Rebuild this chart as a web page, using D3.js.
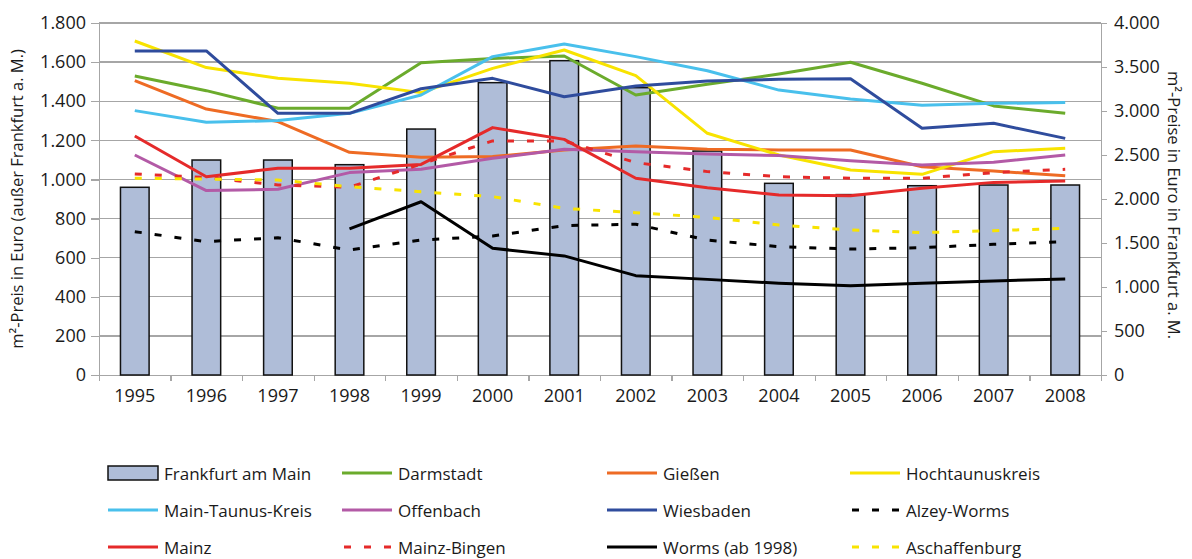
<!DOCTYPE html>
<html lang="de">
<head>
<meta charset="utf-8">
<title>m²-Preise Rhein-Main 1995-2008</title>
<script src="https://d3js.org/d3.v7.min.js"></script>
<style>
  body { margin: 0; background: #fff; }
  svg text { font-family: "Open Sans", sans-serif; fill: #1a1a1a; }
  .axis path, .axis line { stroke: #a6a6a6; stroke-width: 1.3; shape-rendering: crispEdges; }
  .grid line { stroke: #a6a6a6; stroke-width: 1.3; shape-rendering: crispEdges; }
</style>
</head>
<body>
<svg id="chart" width="1192" height="559"></svg>
<script>
// Jahre (Kategorien)
const years = [1995, 1996, 1997, 1998, 1999, 2000, 2001, 2002, 2003, 2004, 2005, 2006, 2007, 2008];

// Frankfurt am Main (rechte Achse)
const frankfurt = [2133, 2443, 2443, 2390, 2795, 3322, 3572, 3265, 2545, 2178, 2050, 2151, 2159, 2159];

// übrige Städte / Kreise (linke Achse)
const darmstadt     = [1529, 1454, 1364, 1364, 1597, 1619, 1631, 1432, 1487, 1539, 1599, 1492, 1376, 1338];
const giessen       = [1505, 1360, 1296, 1139, 1113, 1117, 1151, 1171, 1154, 1151, 1151, 1065, 1043, 1019];
const hochtaunus    = [1708, 1572, 1517, 1492, 1444, 1568, 1662, 1531, 1236, 1125, 1048, 1026, 1142, 1159];
const mainTaunus    = [1352, 1292, 1301, 1338, 1432, 1628, 1693, 1628, 1556, 1457, 1411, 1379, 1389, 1393];
const offenbach     = [1125, 943, 950, 1035, 1052, 1108, 1154, 1142, 1130, 1122, 1096, 1074, 1088, 1125];
const wiesbaden     = [1657, 1657, 1338, 1338, 1464, 1517, 1423, 1478, 1503, 1512, 1515, 1262, 1287, 1210];
const alzeyWorms    = [733, 682, 702, 639, 690, 711, 764, 771, 690, 656, 644, 651, 668, 682];
const mainz         = [1222, 1014, 1057, 1057, 1077, 1265, 1205, 1006, 958, 921, 917, 955, 985, 992];
const mainzBingen   = [1028, 1010, 972, 960, 1079, 1197, 1197, 1086, 1040, 1014, 1006, 1006, 1035, 1052];
const worms         = [null, null, null, 747, 886, 648, 609, 508, 489, 469, 457, 469, 481, 491];
const aschaffenburg = [1006, 1002, 997, 963, 937, 912, 852, 830, 806, 767, 742, 728, 738, 750];

// Achsenwerte
const leftTicks  = [0, 200, 400, 600, 800, 1000, 1200, 1400, 1600, 1800];
const rightTicks = [0, 500, 1000, 1500, 2000, 2500, 3000, 3500, 4000];

// Linien in Legendenreihenfolge
const series = [
  { name: "Darmstadt",          values: darmstadt,     color: "#6bab2c", dash: null },
  { name: "Gießen",             values: giessen,       color: "#ee6b24", dash: null },
  { name: "Hochtaunuskreis",    values: hochtaunus,    color: "#f8e300", dash: null },
  { name: "Main-Taunus-Kreis",  values: mainTaunus,    color: "#49c0ec", dash: null },
  { name: "Offenbach",          values: offenbach,     color: "#b35aa6", dash: null },
  { name: "Wiesbaden",          values: wiesbaden,     color: "#2f4c9d", dash: null },
  { name: "Alzey-Worms",        values: alzeyWorms,    color: "#000000", dash: "7,13" },
  { name: "Mainz",              values: mainz,         color: "#e52a2a", dash: null },
  { name: "Mainz-Bingen",       values: mainzBingen,   color: "#e52a2a", dash: "7,13" },
  { name: "Worms (ab 1998)",    values: worms,         color: "#000000", dash: null },
  { name: "Aschaffenburg",      values: aschaffenburg, color: "#f8e300", dash: "7,13" }
];

const margin = { top: 23, right: 91, bottom: 184, left: 99 },
      width  = 1192 - margin.left - margin.right,
      height = 559 - margin.top - margin.bottom;

const de = d3.formatLocale({ decimal: ",", thousands: ".", grouping: [3], currency: ["", " €"] });
const fmt = de.format(",d");

const svg = d3.select("#chart");
const g = svg.append("g").attr("transform", `translate(${margin.left},${margin.top})`);

// Skalen
const x = d3.scaleBand().domain(years).range([0, width]).paddingInner(0.6).paddingOuter(0.3);
const xEdge = d3.scaleLinear().domain([0, years.length]).range([0, width]);
const yL = d3.scaleLinear().domain([0, 1800]).range([height, 0]);
const yR = d3.scaleLinear().domain([0, 4000]).range([height, 0]);
const cx = yr => x(yr) + x.bandwidth() / 2;

// Gitternetz
g.append("g").attr("class", "grid")
  .selectAll("line").data(leftTicks.slice(1)).join("line")
  .attr("x1", 0).attr("x2", width)
  .attr("y1", d => yL(d)).attr("y2", d => yL(d));

// Achsen
const axL = g.append("g").attr("class", "axis")
  .call(d3.axisLeft(yL).tickValues(leftTicks).tickSize(8).tickSizeOuter(0).tickPadding(5).tickFormat(fmt));
const axR = g.append("g").attr("class", "axis").attr("transform", `translate(${width},0)`)
  .call(d3.axisRight(yR).tickValues(rightTicks).tickSize(6).tickSizeOuter(0).tickPadding(7).tickFormat(fmt));
g.append("g").attr("class", "axis").attr("transform", `translate(0,${height})`)
  .call(d3.axisBottom(xEdge).ticks(years.length).tickSize(6).tickSizeOuter(0).tickFormat(""));
const axBL = g.append("g").attr("class", "axis").attr("transform", `translate(0,${height})`)
  .call(d3.axisBottom(x).tickSize(0).tickPadding(14));
axBL.select(".domain").remove();

[axL, axR, axBL].forEach(a => a.selectAll("text").style("font-size", "18px").attr("fill", "#1a1a1a"));

// Balken Frankfurt
g.append("g").selectAll("rect")
  .data(years.map((yr, i) => ({ yr, v: frankfurt[i] })))
  .join("rect")
  .attr("x", d => x(d.yr))
  .attr("y", d => yR(d.v))
  .attr("width", x.bandwidth())
  .attr("height", d => height - yR(d.v))
  .attr("fill", "#afbdd8")
  .attr("stroke", "#111")
  .attr("stroke-width", 1.5);

// Linien
const line = d3.line()
  .defined(d => d.v !== null)
  .x(d => cx(d.yr))
  .y(d => yL(d.v));

g.append("g").selectAll("path")
  .data(series)
  .join("path")
  .attr("d", s => line(years.map((yr, i) => ({ yr, v: s.values[i] }))))
  .attr("fill", "none")
  .attr("stroke", s => s.color)
  .attr("stroke-width", 3)
  .attr("stroke-dasharray", s => s.dash)
  .attr("stroke-linejoin", "round");

// Achsentitel
svg.append("text")
  .attr("transform", `translate(19,${margin.top + height / 2}) rotate(-90)`)
  .attr("text-anchor", "middle").attr("dominant-baseline", "middle")
  .style("font-size", "16.5px")
  .text("m²-Preis in Euro (außer Frankfurt a. M.)");
svg.append("text")
  .attr("transform", `translate(1172,${margin.top + height / 2 + 6}) rotate(90)`)
  .attr("text-anchor", "middle").attr("dominant-baseline", "middle")
  .style("font-size", "16.5px")
  .text("m²-Preise in Euro in Frankfurt a. M.");

// Legende
const legendItems = [{ name: "Frankfurt am Main", bar: true }].concat(series);
const colX = [108, 342, 607, 850];
const rowY = [473, 510, 547];
const swW = 50;

const leg = svg.append("g").selectAll("g")
  .data(legendItems)
  .join("g")
  .attr("transform", (d, i) => `translate(${colX[i % 4]},${rowY[Math.floor(i / 4)]})`);

leg.filter(d => d.bar).append("rect")
  .attr("x", 0).attr("y", -7).attr("width", swW).attr("height", 14)
  .attr("fill", "#afbdd8").attr("stroke", "#111").attr("stroke-width", 1.5);

leg.filter(d => !d.bar).append("line")
  .attr("x1", d => d.dash ? 2 : 0).attr("x2", swW).attr("y1", 0).attr("y2", 0)
  .attr("stroke", d => d.color).attr("stroke-width", 3)
  .attr("stroke-dasharray", d => d.dash ? "7,13" : null);

leg.append("text")
  .attr("x", swW + 6).attr("y", 0)
  .attr("dominant-baseline", "central")
  .style("font-size", "17px")
  .text(d => d.name);
</script>
</body>
</html>
